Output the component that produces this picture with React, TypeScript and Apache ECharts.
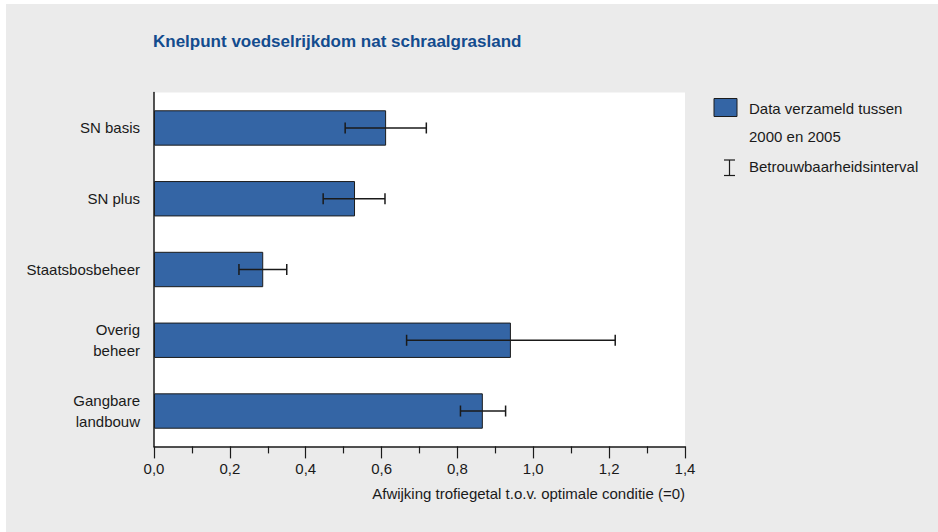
import React, { useEffect, useRef } from "react";
import * as echarts from "echarts";

const categories = ["SN basis", "SN plus", "Staatsbosbeheer", "Overig\nbeheer", "Gangbare\nlandbouw"];
const values = [0.612, 0.53, 0.288, 0.941, 0.867];
const lowerBounds = [0.504, 0.446, 0.224, 0.666, 0.808];
const upperBounds = [0.718, 0.609, 0.35, 1.216, 0.927];
const xTicks = [0, 0.2, 0.4, 0.6, 0.8, 1.0, 1.2, 1.4];

const titleText = "Knelpunt voedselrijkdom nat schraalgrasland";
const xAxisTitle = "Afwijking trofiegetal t.o.v. optimale conditie (=0)";
const legendBar = ["Data verzameld tussen", "2000 en 2005"];
const legendErr = "Betrouwbaarheidsinterval";

const FONT = "Liberation Sans, Arial, sans-serif";

export default function App() {
  const ref = useRef<HTMLDivElement>(null);
  useEffect(() => {
    if (!ref.current) return;
    const chart = echarts.init(ref.current, null, { renderer: "svg" });
    const errData = categories.map((c, i) => [lowerBounds[i], upperBounds[i], i]);
    chart.setOption({
      animation: false,
      textStyle: { fontFamily: FONT },
      grid: {
        left: 154,
        right: 253,
        top: 92.6,
        bottom: 85.6,
        show: true,
        backgroundColor: "#ffffff",
        borderWidth: 0,
      },
      xAxis: {
        type: "value",
        min: xTicks[0],
        max: xTicks[xTicks.length - 1],
        interval: 0.2,
        name: xAxisTitle,
        nameLocation: "end",
        nameGap: 0,
        nameTextStyle: {
          fontSize: 15,
          color: "#1a1a1a",
          align: "right",
          verticalAlign: "top",
          padding: [40, 0, 0, 0],
        },
        axisLine: { show: true, lineStyle: { color: "#1a1a1a", width: 1.5 } },
        axisTick: { show: true, length: 12, lineStyle: { color: "#1a1a1a", width: 1.2 } },
        minorTick: { show: true, splitNumber: 2, length: 7, lineStyle: { color: "#1a1a1a", width: 1.2 } },
        splitLine: { show: false },
        axisLabel: {
          fontSize: 15,
          color: "#1a1a1a",
          margin: 15,
          formatter: (v: number) => v.toFixed(1).replace(".", ","),
        },
      },
      yAxis: {
        type: "category",
        data: categories,
        inverse: true,
        axisLine: { show: true, lineStyle: { color: "#1a1a1a", width: 1.5 } },
        axisTick: { show: false },
        splitLine: { show: false },
        axisLabel: {
          fontSize: 15,
          color: "#1a1a1a",
          margin: 14,
          lineHeight: 21,
          align: "right",
        },
      },
      series: [
        {
          type: "bar",
          data: values,
          barWidth: "50%",
          itemStyle: { color: "#3465a5", borderColor: "#1c1c1c", borderWidth: 1 },
          z: 2,
        },
        {
          type: "custom",
          data: errData,
          encode: { x: [0, 1], y: 2 },
          z: 5,
          renderItem: (params: any, api: any) => {
            const idx = api.value(2);
            const p1 = api.coord([api.value(0), idx]);
            const p2 = api.coord([api.value(1), idx]);
            const h = 5.5;
            const style = { stroke: "#1a1a1a", lineWidth: 1.5 };
            return {
              type: "group",
              children: [
                { type: "line", shape: { x1: p1[0], y1: p1[1], x2: p2[0], y2: p2[1] }, style },
                { type: "line", shape: { x1: p1[0], y1: p1[1] - h, x2: p1[0], y2: p1[1] + h }, style },
                { type: "line", shape: { x1: p2[0], y1: p2[1] - h, x2: p2[0], y2: p2[1] + h }, style },
              ],
            };
          },
        },
      ],
      graphic: [
        {
          type: "rect",
          z: -100,
          silent: true,
          shape: { x: 6, y: 4, width: 932, height: 528 },
          style: { fill: "#ebebeb" },
        },
        {
          type: "text",
          x: 153,
          y: 41,
          style: {
            text: titleText,
            font: `bold 17px ${FONT}`,
            fill: "#134c8e",
            verticalAlign: "middle",
          },
        },
        {
          type: "rect",
          shape: { x: 714, y: 98.5, width: 23, height: 18 },
          style: { fill: "#3465a5", stroke: "#1c1c1c", lineWidth: 1 },
        },
        {
          type: "text",
          x: 749,
          y: 108,
          style: { text: legendBar[0], font: `15px ${FONT}`, fill: "#1a1a1a", verticalAlign: "middle" },
        },
        {
          type: "text",
          x: 749,
          y: 136,
          style: { text: legendBar[1], font: `15px ${FONT}`, fill: "#1a1a1a", verticalAlign: "middle" },
        },
        {
          type: "line",
          shape: { x1: 729.5, y1: 160, x2: 729.5, y2: 175.5 },
          style: { stroke: "#1a1a1a", lineWidth: 1.2 },
        },
        {
          type: "line",
          shape: { x1: 724, y1: 160, x2: 735, y2: 160 },
          style: { stroke: "#1a1a1a", lineWidth: 1.2 },
        },
        {
          type: "line",
          shape: { x1: 724, y1: 175.5, x2: 735, y2: 175.5 },
          style: { stroke: "#1a1a1a", lineWidth: 1.2 },
        },
        {
          type: "text",
          x: 749,
          y: 166.5,
          style: { text: legendErr, font: `15px ${FONT}`, fill: "#1a1a1a", verticalAlign: "middle" },
        },
      ],
    });
    return () => chart.dispose();
  }, []);
  return (
    <div
      ref={ref}
      style={{ position: "absolute", left: 0, top: 0, width: 938, height: 532 }}
    />
  );
}
